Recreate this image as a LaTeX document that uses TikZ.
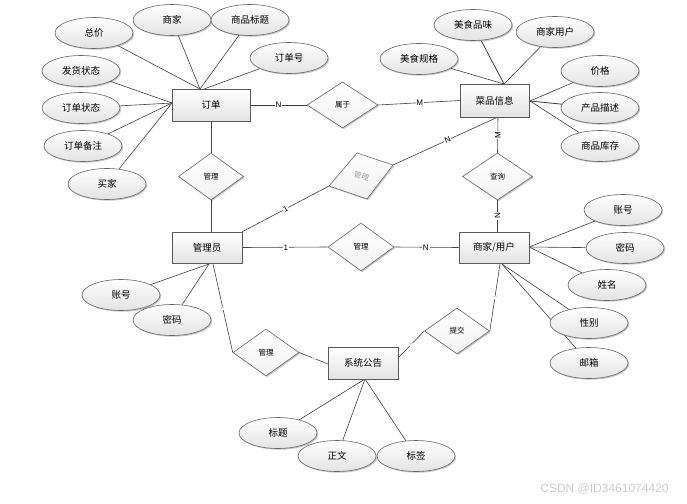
\documentclass[tikz,border=0pt]{standalone}
\usepackage{fontspec}
\setmainfont{Liberation Sans}
\newfontfamily\cjk{Noto Sans CJK SC}
\usetikzlibrary{shapes.geometric,shadows,calc}
\pgfdeclarelayer{bg}
\pgfdeclarelayer{paper}
\pgfsetlayers{paper,bg,main}
\begin{document}
\begin{tikzpicture}[x=1pt,y=-1pt,
  softshadow/.style={drop shadow={shadow xshift=1.2pt,shadow yshift=-1.2pt,fill=black,opacity=0.22}},
  entbox/.style={rectangle,draw=black!65,line width=0.6pt,top color=white,bottom color=gray!22,
    minimum width=70pt,minimum height=32pt,inner sep=0pt,softshadow,font=\cjk\fontsize{9.5}{11}\selectfont},
  attr/.style={ellipse,draw=black!60,line width=0.6pt,top color=white,bottom color=gray!22,
    minimum width=78pt,minimum height=31pt,inner sep=0pt,softshadow,font=\cjk\fontsize{9.5}{11}\selectfont},
  rel/.style={diamond,draw=black!60,line width=0.6pt,top color=white,bottom color=gray!10,
    minimum width=66pt,minimum height=47pt,inner sep=0pt,softshadow,font=\cjk\fontsize{7.5}{8}\selectfont},
  conn/.style={draw=black!75,line width=0.6pt},
  lab/.style={fill=white,inner sep=0.8pt,font=\fontsize{8}{9}\selectfont},
  tinylab/.style={fill=white,inner sep=0.3pt,text=gray!70,font=\fontsize{4.5}{5}\selectfont,sloped}
]
\begin{pgfonlayer}{paper}
\fill[white] (0,0) rectangle (687,503);
\end{pgfonlayer}
\useasboundingbox (0,0) rectangle (687,503);

% entities
\node[entbox,minimum width=78pt] (dd) at (211,105) {订单};
\node[entbox,minimum width=69pt,minimum height=33pt] (cp) at (494.5,100.5) {菜品信息};
\node[entbox,minimum height=31pt] (gly) at (207,247.5) {管理员};
\node[entbox,minimum height=31pt] (sj) at (494,247.5) {商家/用户};
\node[entbox] (xt) at (363,363) {系统公告};

% relationships
\node[rel,minimum width=71pt,minimum height=46pt] (r1) at (342.5,105) {属于};
\node[rel,minimum width=65pt] (r2) at (211,176.5) {管理};
\node[rel,minimum width=70pt] (r3) at (497.5,176.5) {查询};
\node[rel,minimum height=48pt] (r4) at (361,247) {管理};
\node[rel] (r5) at (266,352.5) {管理};
\node[rel,minimum width=65pt,minimum height=46pt] (r6) at (457,331) {提交};

% skewed grey diamond
\coordinate (gT) at (357,153);
\coordinate (gR) at (393,165);
\coordinate (gB) at (367,199);
\coordinate (gL) at (329,186);
\draw[draw=black!60,line width=0.6pt,top color=white,bottom color=gray!12,softshadow] (gL) -- (gT) -- (gR) -- (gB) -- cycle;
\node[text=gray!75,font=\cjk\fontsize{7.5}{8}\selectfont,rotate=-20,inner sep=0pt] (gm) at (361.5,176) {管理};

% attributes of 订单
\node[attr] (zj) at (94,33) {总价};
\node[attr] (sjia) at (172,20) {商家};
\node[attr] (spbt) at (250,20) {商品标题};
\node[attr] (ddh) at (289,58) {订单号};
\node[attr] (fhzt) at (81,71) {发货状态};
\node[attr] (ddzt) at (81,108) {订单状态};
\node[attr] (ddbz) at (83,146) {订单备注};
\node[attr] (mj) at (107,184) {买家};

% attributes of 菜品信息
\node[attr] (mspw) at (473,25) {美食品味};
\node[attr] (sjyh) at (555,32) {商家用户};
\node[attr] (msgg) at (419,59) {美食规格};
\node[attr] (jg) at (600,71) {价格};
\node[attr] (cpms) at (600,108) {产品描述};
\node[attr] (spkc) at (600,146) {商品库存};

% attributes of 管理员
\node[attr] (gzh) at (121,295) {账号};
\node[attr] (gmm) at (172,320) {密码};

% attributes of 商家/用户
\node[attr] (szh) at (623,210) {账号};
\node[attr] (smm) at (625,248) {密码};
\node[attr] (sxm) at (607,285) {姓名};
\node[attr] (sxb) at (589,323) {性别};
\node[attr] (syx) at (589,363) {邮箱};

% attributes of 系统公告
\node[attr] (bt) at (278,433) {标题};
\node[attr] (zw) at (337,456) {正文};
\node[attr] (bq) at (416,456) {标签};

% connection points on entity borders
\coordinate (ddt) at (200,89);
\coordinate (ddt2) at (204,89);
\coordinate (ddl) at (172,103);
\coordinate (cpt) at (504,84);
\coordinate (cpr) at (530,101);
\coordinate (cpb) at (498,117);
\coordinate (glyb) at (209,264);
\coordinate (glyb2) at (213,264);
\coordinate (sjr) at (529,247);
\coordinate (sjb) at (502,264);
\coordinate (sjb2) at (500,264);
\coordinate (xtb) at (365,379);
\coordinate (xtl) at (328,364);
\coordinate (xtr) at (398,358);

\node[text=gray!40,font=\fontsize{12}{13}\selectfont,inner sep=0pt] (wm) at (604.5,489) {CSDN @ID3461074420};

\begin{pgfonlayer}{bg}
% 订单 attributes
\draw[conn] (zj) -- (ddt);
\draw[conn] (sjia) -- (ddt);
\draw[conn] (spbt) -- (ddt);
\draw[conn] (ddh) -- (ddt2);
\draw[conn] (fhzt) -- (ddl);
\draw[conn] (ddzt) -- (ddl);
\draw[conn] (ddbz) -- (ddl);
\draw[conn] (mj) -- (ddl);
% 菜品信息 attributes
\draw[conn] (msgg) -- (cpt);
\draw[conn,line width=0.8pt] (mspw) -- (cpt);
\draw[conn] (sjyh) -- (cpt);
\draw[conn] (jg) -- (cpr);
\draw[conn,line width=0.8pt] (cpms) -- (cpr);
\draw[conn] (spkc) -- (cpr);
% 管理员 attributes
\draw[conn] (gzh) -- (glyb);
\draw[conn] (gmm) -- (glyb);
% 商家/用户 attributes
\draw[conn] (szh) -- (sjr);
\draw[conn] (smm) -- (sjr);
\draw[conn] (sxm) -- (sjr);
\draw[conn] (sxb) -- (sjb);
\draw[conn] (syx) -- (sjb);
% 系统公告 attributes
\draw[conn] (bt) -- (xtb);
\draw[conn] (zw) -- (xtb);
\draw[conn] (bq) -- (xtb);

% relationships
\draw[conn] (dd.east) -- node[lab,pos=0.5] {N} (r1.west);
\draw[conn] (r1.east) -- node[lab,pos=0.51] {M} (cp.west);
\draw[conn] (dd.south) -- (r2.north);
\draw[conn] (r2.south) -- (r2.south |- gly.north);
\draw[conn] (gly.east) -- node[lab,pos=0.51] {1} (r4.west);
\draw[conn] (r4.east) -- node[lab,pos=0.49] {N} (sj.west);
\draw[conn] (cpb) -- node[lab,rotate=90,pos=0.5] {M} (r3.north);
\draw[conn] (r3.south) -- node[lab,rotate=90,pos=0.5] {N} (r3.south |- sj.north);
\draw[conn] (gly.north east) -- node[lab,sloped,pos=0.5] {1} (gL);
\draw[conn] (gR) -- node[lab,sloped,pos=0.52] {N} (cpb);
\draw[conn] (glyb2) -- node[tinylab,pos=0.5] {1} (r5.west);
\draw[conn] (r5.east) -- node[tinylab,pos=0.5] {N} (xtl);
\draw[conn] (sjb2) -- node[tinylab,pos=0.5] {1} (r6.east);
\draw[conn] (r6.west) -- node[tinylab,pos=0.5] {N} (xtr);
\end{pgfonlayer}
\end{tikzpicture}
\end{document}
